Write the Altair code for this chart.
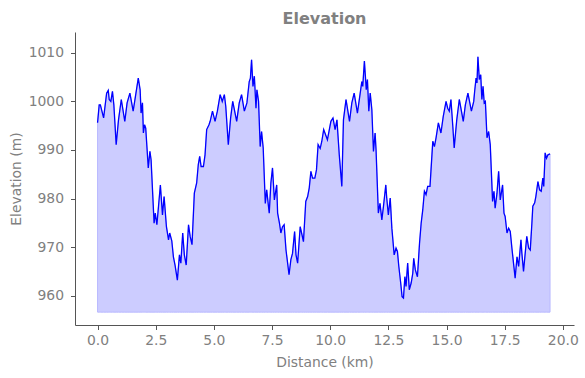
import altair as alt
import pandas as pd

distance_km = [
    0.00, 0.07, 0.12, 0.26, 0.39, 0.46, 0.50, 0.57, 0.64, 0.70, 0.80, 0.90, 1.02, 1.17, 1.27, 1.39,
    1.53, 1.65, 1.75, 1.83, 1.87, 1.93, 1.97, 2.02, 2.07, 2.18, 2.25, 2.30, 2.43, 2.48, 2.55, 2.62,
    2.70, 2.79, 2.86, 2.96, 3.05, 3.10, 3.19, 3.26, 3.33, 3.43, 3.52, 3.58, 3.66, 3.73, 3.81, 3.91,
    3.98, 4.06, 4.16, 4.26, 4.33, 4.39, 4.45, 4.55, 4.62, 4.69, 4.79, 4.84, 4.94, 5.05, 5.15, 5.27,
    5.36, 5.45, 5.51, 5.62, 5.72, 5.81, 5.98, 6.09, 6.19, 6.31, 6.42, 6.52, 6.57, 6.62, 6.68, 6.74,
    6.81, 6.85, 6.92, 6.99, 7.05, 7.12, 7.21, 7.27, 7.34, 7.38, 7.45, 7.52, 7.60, 7.70, 7.74, 7.82,
    7.88, 7.95, 8.02, 8.10, 8.17, 8.23, 8.31, 8.38, 8.47, 8.53, 8.60, 8.71, 8.77, 8.85, 8.95, 9.03,
    9.10, 9.17, 9.24, 9.34, 9.41, 9.48, 9.57, 9.64, 9.72, 9.88, 10.03, 10.12, 10.21, 10.29, 10.39,
    10.50, 10.57, 10.68, 10.83, 10.93, 11.03, 11.17, 11.29, 11.36, 11.40, 11.47, 11.55, 11.60, 11.66,
    11.72, 11.79, 11.86, 11.93, 11.97, 12.07, 12.14, 12.22, 12.29, 12.39, 12.43, 12.50, 12.58, 12.65,
    12.75, 12.83, 12.89, 12.95, 13.03, 13.09, 13.15, 13.21, 13.26, 13.33, 13.40, 13.48, 13.55, 13.59,
    13.66, 13.75, 13.84, 13.91, 13.98, 14.05, 14.12, 14.19, 14.29, 14.33, 14.41, 14.48, 14.55, 14.65,
    14.76, 14.86, 14.98, 15.05, 15.12, 15.19, 15.27, 15.33, 15.44, 15.55, 15.72, 15.81, 15.92, 16.07,
    16.17, 16.21, 16.27, 16.31, 16.35, 16.41, 16.47, 16.52, 16.57, 16.62, 16.67, 16.74, 16.81, 16.88,
    16.98, 17.04, 17.09, 17.17, 17.24, 17.31, 17.41, 17.47, 17.52, 17.60, 17.67, 17.74, 17.81, 17.88,
    17.95, 18.03, 18.10, 18.20, 18.24, 18.31, 18.45, 18.53, 18.60, 18.67, 18.71, 18.79, 18.84, 18.93,
    19.00, 19.07, 19.14, 19.18, 19.24, 19.30, 19.36, 19.45,
]

elevation_m = [
    995.6, 999.3, 999.3, 996.6, 1001.7, 1002.3, 1000.4, 1000.0, 1002.1, 999.3, 991.1, 996.2, 1000.4, 995.9, 999.7, 1001.7,
    998.0, 1001.7, 1004.8, 1002.4, 997.6, 999.7, 993.5, 995.2, 994.5, 986.3, 989.7, 988.0, 974.9, 977.0, 974.6, 978.4,
    982.8, 976.6, 980.4, 974.2, 971.5, 972.9, 971.3, 968.0, 966.3, 963.2, 968.4, 966.7, 972.9, 968.4, 966.3, 974.6,
    972.2, 970.5, 981.1, 983.2, 987.0, 988.7, 986.6, 986.6, 989.0, 994.2, 995.2, 995.9, 998.0, 995.9, 998.0, 1001.4,
    1000.0, 1001.4, 999.0, 991.1, 996.6, 1000.0, 995.9, 999.7, 1001.4, 998.0, 999.7, 1004.1, 1004.8, 1008.6, 1003.1, 1005.2,
    998.6, 1002.4, 1000.0, 990.7, 993.8, 990.4, 979.0, 981.8, 978.7, 977.0, 983.2, 986.3, 979.7, 982.8, 977.0, 974.9,
    972.9, 974.2, 974.6, 969.4, 966.7, 964.3, 967.4, 968.7, 973.2, 968.4, 966.7, 974.2, 972.9, 971.1, 979.4, 980.4,
    982.2, 985.6, 984.2, 984.2, 985.9, 991.1, 990.3, 991.8, 994.2, 992.1, 995.9, 996.6, 994.2, 996.2, 989.0,
    982.5, 996.2, 1000.4, 995.9, 999.7, 1001.7, 997.6, 1001.7, 1004.1, 1003.1, 1008.3, 1002.4, 1004.5, 998.0,
    1001.7, 998.3, 989.7, 993.5, 990.1, 977.0, 979.0, 975.6, 978.4, 982.8, 980.1, 976.6, 980.1, 973.9,
    968.4, 969.8, 969.1, 966.0, 962.6, 959.8, 959.5, 963.9, 961.9, 966.7, 961.2, 962.6, 964.6, 967.7,
    965.3, 963.9, 970.8, 974.9, 977.7, 981.5, 980.8, 982.5, 982.5, 985.6, 991.8, 990.7, 992.5, 995.6,
    993.5, 996.9, 1000.0, 998.6, 998.0, 1000.4, 994.9, 990.4, 996.2, 1000.4, 995.9, 999.3, 1001.7, 998.0,
    1000.0, 1002.1, 1004.8, 1003.8, 1009.2, 1004.5, 1005.5, 1000.4, 1003.1, 999.7, 1000.0, 992.5, 993.8, 991.1,
    979.4, 981.5, 978.0, 981.1, 985.6, 979.7, 982.8, 977.0, 976.3, 972.9, 973.9, 973.2, 969.8, 966.7,
    963.6, 968.0, 966.0, 971.5, 968.7, 965.0, 972.2, 969.8, 969.4, 974.9, 978.4, 979.1, 980.4, 983.5,
    981.8, 981.5, 984.2, 982.5, 989.4, 988.3, 989.0, 989.2,
]

x_ticks = [0.0, 2.5, 5.0, 7.5, 10.0, 12.5, 15.0, 17.5, 20.0]
y_ticks = [960, 970, 980, 990, 1000, 1010]
fill_base = 956.6

df = pd.DataFrame({"d": distance_km, "e": elevation_m})

GRAY = "#808080"
FONT = "DejaVu Sans"

x_enc = alt.X(
    "d:Q",
    scale=alt.Scale(domain=[-0.97, 20.48], nice=False, zero=False),
    axis=alt.Axis(values=x_ticks, format=".1f", title="Distance (km)"),
)
y_enc = alt.Y(
    "e:Q",
    scale=alt.Scale(domain=[953.95, 1014.3], nice=False, zero=False),
    axis=alt.Axis(values=y_ticks, format="d", title="Elevation (m)"),
)

area = alt.Chart(df).mark_area(
    fill="#ccccff", stroke="#b8b8ff", strokeWidth=1, interpolate="linear"
).encode(x=x_enc, y=y_enc, y2=alt.datum(fill_base))

line = alt.Chart(df).mark_line(color="#0000ff", strokeWidth=1.3).encode(x="d:Q", y="e:Q")

chart = (
    alt.layer(area, line)
    .properties(
        width=499,
        height=293,
        title=alt.TitleParams("Elevation", fontSize=16, fontWeight="bold", color=GRAY, font=FONT, offset=5),
        autosize=alt.AutoSizeParams(type="none"),
        padding={"left": 75, "top": 32, "right": 11, "bottom": 53},
    )
    .configure_view(stroke=None)
    .configure_axis(
        grid=False,
        domainColor="#555555",
        domainWidth=1,
        tickColor="#555555",
        tickSize=4.5,
        labelColor=GRAY,
        labelFont=FONT,
        labelFontSize=13.9,
        titleColor=GRAY,
        titleFont=FONT,
        titleFontSize=13.9,
        titleFontWeight="normal",
    )
    .configure_axisX(titlePadding=8, labelPadding=4)
    .configure_axisY(titlePadding=5, labelPadding=7)
)

chart.save("out.html", embed_options={"renderer": "svg", "actions": False})
